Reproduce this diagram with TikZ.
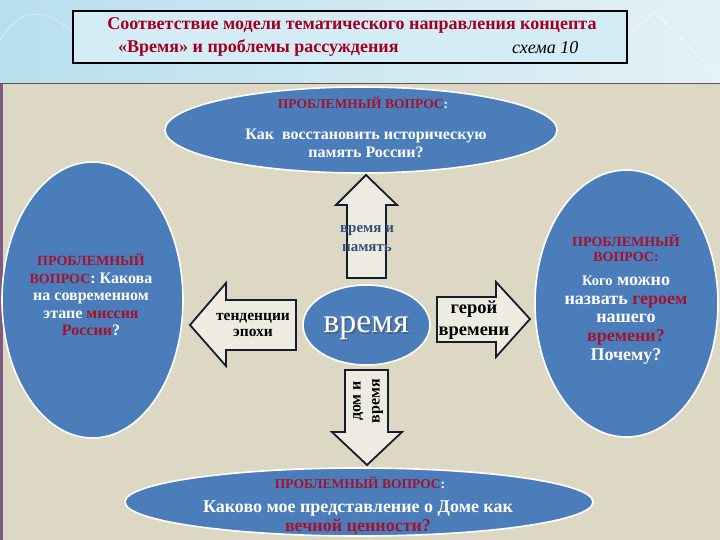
\documentclass[tikz,border=0pt]{standalone}
\usepackage{fontspec}
\setmainfont{Liberation Serif}
\usetikzlibrary{shapes.geometric}
\definecolor{bandL}{HTML}{B8DFEE}
\definecolor{bandR}{HTML}{E4F1F5}
\definecolor{beige}{HTML}{DDD8C3}
\definecolor{ellblue}{HTML}{4A7DBA}
\definecolor{qred}{HTML}{A5122D}
\definecolor{tred}{HTML}{A3001F}
\definecolor{arrfill}{HTML}{EEECE1}
\definecolor{arrline}{HTML}{141E2E}
\definecolor{slate}{HTML}{34507A}
\tikzset{
  bubble/.style={ellipse, draw=white, line width=1.6pt, fill=ellblue, inner sep=0pt},
  blockarrow/.style={draw=arrline, line width=1.8pt, fill=arrfill, line join=miter},
  wtxt/.style={text=white, font=\bfseries, align=center, inner sep=0pt},
  rtxt/.style={text=qred, font=\bfseries, align=center, inner sep=0pt},
  btxt/.style={text=black, font=\bfseries, align=center, inner sep=0pt},
}
\begin{document}
\begin{tikzpicture}[x=1pt,y=-1pt]
\useasboundingbox (0,0) rectangle (720,540);
% backgrounds
\shade[left color=bandL, right color=bandR] (0,0) rectangle (720,84);
\draw[white, opacity=0.5, line width=1pt] (600,62) -- (655,12) -- (720,78);
\draw[white, opacity=0.35, line width=1pt] (0,40) .. controls (20,10) and (40,5) .. (70,30);
\fill[beige] (0,84) rectangle (720,540);
\draw[gray!70!black, line width=1pt] (0,84) -- (720,84);
\fill[violet!30!gray] (0,84) rectangle (3,540);

% title box
\node[draw=black, line width=2pt, fill=bandL!60!white, minimum width=554pt, minimum height=52pt, inner sep=0pt] (title) at (350,37) {};
\node[text=tred, font=\fontsize{18}{20}\selectfont\bfseries, inner sep=0pt] (t1) at (352,25) {Соответствие модели тематического направления концепта};
\node[text=tred, font=\fontsize{18}{20}\selectfont\bfseries, inner sep=0pt, anchor=west] (t2) at (118,48) {«Время» и проблемы рассуждения};
\node[text=black, font=\fontsize{18}{20}\selectfont\itshape, inner sep=0pt, anchor=west] (t3) at (512,48) {схема 10};

% ellipses
\node[bubble, minimum width=392pt, minimum height=86pt] (top) at (361,130) {};
\node[bubble, minimum width=181pt, minimum height=276pt] (left) at (92.5,300) {};
\node[bubble, minimum width=183pt, minimum height=267pt] (right) at (626.5,303.5) {};
\node[bubble, minimum width=468pt, minimum height=68pt] (bottom) at (359,502) {};
\node[bubble, minimum width=127pt, minimum height=80pt] (center) at (366.5,325) {};

% block arrows
\draw[blockarrow] (347,278) -- (347,205) -- (336,205) -- (366,175) -- (397,205) -- (386,205) -- (386,278) -- cycle;
\draw[blockarrow] (296,300) -- (226,300) -- (226,283) -- (190,325) -- (226,366) -- (226,350) -- (296,350) -- cycle;
\draw[blockarrow] (437,297) -- (496,297) -- (496,282) -- (530,319) -- (496,357) -- (496,342) -- (437,342) -- cycle;
\draw[blockarrow] (345,370) -- (388,370) -- (388,432) -- (402,432) -- (367,465) -- (332,432) -- (345,432) -- cycle;

% center text with shadow
\node[text=black!70, opacity=0.55, font=\fontsize{34}{36}\selectfont, inner sep=0pt] (cshadow) at (367.5,330) {время};
\node[text=white, font=\fontsize{34}{36}\selectfont, inner sep=0pt] (ctext) at (366,328.5) {время};

% arrow texts
\node[text=slate, font=\fontsize{15}{19}\selectfont\bfseries, align=center, inner sep=0pt] (upt) at (367,239) {время и\\память};
\node[btxt, font=\fontsize{15.5}{16}\selectfont\bfseries] (lt) at (253,325) {тенденции\\эпохи};
\node[btxt, font=\fontsize{18.5}{22}\selectfont\bfseries] (rt) at (474,320) {герой\\времени};
\node[btxt, font=\fontsize{16}{19}\selectfont\bfseries, rotate=90] (dt) at (368,401) {дом и\\время};

% top ellipse text
\node[inner sep=0pt, font=\fontsize{13.5}{15}\selectfont\bfseries] (q1) at (363,103) {\textcolor{qred}{ПРОБЛЕМНЫЙ ВОПРОС}\textcolor{white}{:}};
\node[wtxt, font=\fontsize{16}{18}\selectfont\bfseries] (q1b) at (366,143) {Как\enspace восстановить историческую\\память России?};

% left ellipse text
\node[inner sep=0pt, align=center, font=\fontsize{16}{17.5}\selectfont\bfseries] (q2) at (91,295) {\textcolor{qred}{\fontsize{14}{17.5}\selectfont ПРОБЛЕМНЫЙ}\\\textcolor{qred}{\fontsize{14}{17.5}\selectfont ВОПРОС}\textcolor{white}{: Какова}\\\textcolor{white}{на современном}\\\textcolor{white}{этапе }\textcolor{qred}{миссия}\\\textcolor{qred}{России}\textcolor{white}{?}};

% right ellipse text
\node[rtxt, font=\fontsize{14}{15}\selectfont\bfseries] (q3a) at (626,248.5) {ПРОБЛЕМНЫЙ\\ВОПРОС:};
\node[inner sep=0pt, align=center, font=\fontsize{18}{18.75}\selectfont\bfseries] (q3b) at (626,320) {\textcolor{white}{{\fontsize{14.5}{18.75}\selectfont Кого} можно}\\\textcolor{white}{назвать }\textcolor{qred}{героем}\\\textcolor{white}{нашего}\\\textcolor{qred}{времени?}\\\textcolor{white}{Почему?}};

% bottom ellipse text
\node[inner sep=0pt, font=\fontsize{13.5}{15}\selectfont\bfseries] (q4) at (360,483) {\textcolor{qred}{ПРОБЛЕМНЫЙ ВОПРОС}\textcolor{white}{:}};
\node[inner sep=0pt, align=center, font=\fontsize{18}{19}\selectfont\bfseries] (q4b) at (358,518) {\textcolor{white}{Каково мое представление о Доме как}\\\textcolor{qred}{вечной ценности?}};
\end{tikzpicture}
\end{document}
